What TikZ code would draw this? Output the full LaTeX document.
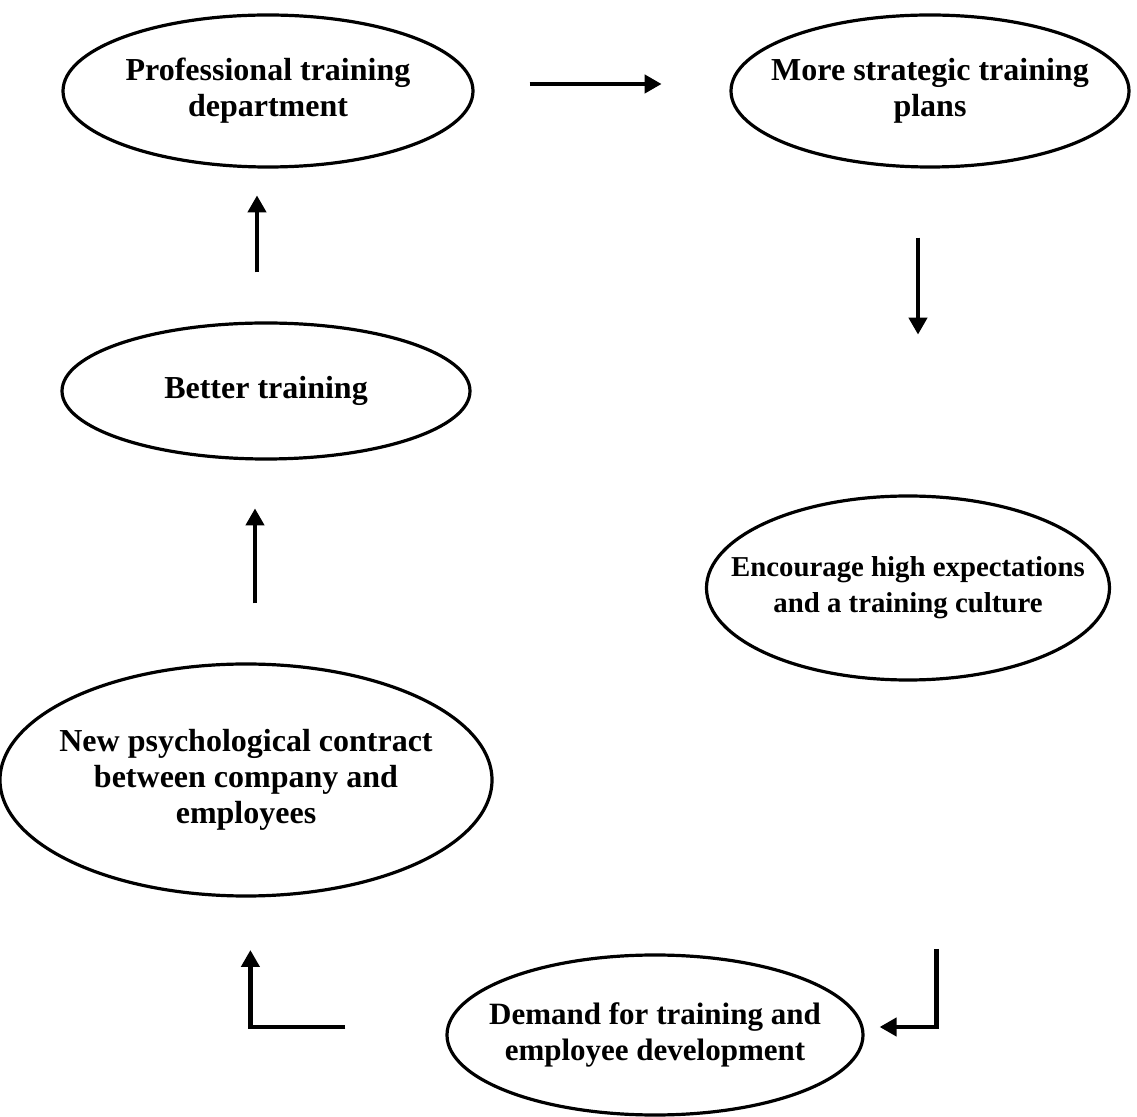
\documentclass[tikz,border=0pt]{standalone}
\usepackage{fontspec}
\setmainfont{Liberation Serif}
\usetikzlibrary{shapes.geometric,arrows.meta,positioning}

\begin{document}
\begin{tikzpicture}[x=0.5pt,y=-0.5pt,
  stage/.style={ellipse,draw,line width=1.6pt,inner xsep=-30pt,inner ysep=0pt,align=center,
    font=\fontsize{16pt}{18pt}\selectfont\bfseries},
  flow/.style={line width=2.4pt,-{Triangle[length=8.5pt,width=9pt]}}]
\useasboundingbox (0,0) rectangle (1137,1117);

\node [stage,minimum width=205pt,minimum height=76pt] (prof) at (268,91) {Professional training\\department};
\node [stage,minimum width=199pt,minimum height=76pt] (strat) at (930,91) {More strategic training\\plans};
\node [stage,minimum width=204pt,minimum height=68pt] (better) at (266,391) {Better training};
\node [stage,minimum width=201.5pt,minimum height=92pt,font=\fontsize{14.4pt}{18pt}\selectfont\bfseries] (enc) at (908,588) {Encourage high expectations\\and a training culture};
\node [stage,minimum width=246pt,minimum height=116pt] (psych) at (246,780) {New psychological contract\\between company and\\employees};
\node [stage,minimum width=208pt,minimum height=80pt,font=\fontsize{15.5pt}{18pt}\selectfont\bfseries] (dem) at (655,1035) {Demand for training and\\employee development};

\draw [flow] (prof.east) ++(55,-7) -- ++(132,0);
\draw [flow] (strat.south) ++(-12,69) -- ++(0,97);
\draw [flow] (better.north) ++(-9,-49) -- ++(0,-77);
\draw [flow] (psych.north) ++(9,-59) -- ++(0,-95);
\draw [flow] (dem.east) ++(72,-86) -- ++(0,78) -- ++(-57,0);
\draw [flow] (dem.west) ++(-100,-8) -- ++(-95,0) -- ++(0,-77);
\end{tikzpicture}
\end{document}
